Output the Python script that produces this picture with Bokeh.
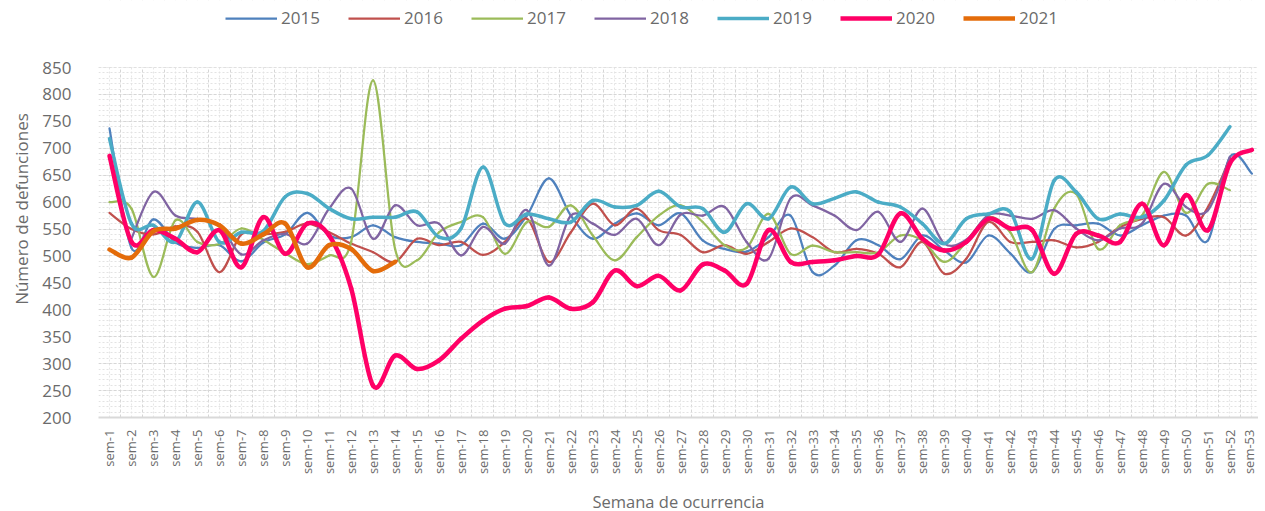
from bokeh.plotting import figure
from bokeh.models import Range1d, FixedTicker, Legend, LegendItem, BoxAnnotation, Title
from bokeh.embed import file_html
from bokeh.resources import INLINE

weeks = [f"sem-{i}" for i in range(1, 54)]
week_num = list(range(1, 54))

y2015 = [737, 515, 568, 525, 515, 520, 490, 525, 540, 580,
         538, 535, 557, 535, 526, 523, 520, 560, 532, 575,
         644, 575, 532, 560, 579, 557, 579, 529, 513, 508,
         535, 575, 470, 482, 529, 520, 494, 538, 510, 488,
         538, 505, 470, 550, 557, 560, 538, 557, 575, 575,
         529, 684, 653]
y2016 = [580, 550, 540, 555, 545, 470, 540, 540, 545, 560,
         544, 523, 507, 489, 532, 520, 526, 502, 526, 569,
         489, 544, 597, 557, 588, 548, 539, 507, 520, 504,
         526, 551, 535, 507, 513, 504, 479, 526, 467, 495,
         563, 526, 526, 529, 516, 526, 554, 569, 572, 538,
         591, 681]
y2017 = [600, 588, 461, 566, 526, 522, 551, 530, 505, 485,
         501, 526, 826, 513, 492, 544, 563, 572, 504, 563,
         554, 594, 538, 492, 535, 575, 594, 563, 520, 515,
         578, 504, 519, 507, 507, 507, 538, 529, 489, 526,
         572, 544, 470, 588, 615, 513, 557, 575, 656, 580,
         634, 622]
y2018 = [None, 532, 619, 575, 569, 557, 503, 529, 541, 523,
         588, 625, 532, 594, 557, 560, 501, 554, 523, 585,
         482, 575, 560, 539, 569, 520, 577, 575, 591, 526,
         495, 607, 594, 575, 548, 582, 526, 588, 523, 530,
         576, 575, 569, 585, 551, 529, 551, 560, 634, 591,
         585, 684]
y2019 = [718, 560, 557, 526, 600, 526, 544, 546, 610, 616,
         588, 569, 572, 572, 582, 535, 551, 665, 560, 578,
         569, 563, 603, 591, 594, 620, 591, 588, 544, 597,
         569, 628, 597, 607, 619, 600, 591, 560, 523, 569,
         578, 582, 495, 640, 619, 569, 578, 572, 603, 669,
         687, 740]
y2020 = [686, 526, 548, 532, 507, 548, 479, 572, 504, 560,
         538, 440, 259, 315, 290, 306, 346, 380, 402, 407,
         423, 402, 414, 473, 444, 463, 436, 484, 473, 448,
         548, 489, 489, 492, 500, 503, 579, 532, 510, 526,
         569, 551, 548, 467, 541, 538, 526, 597, 520, 613,
         548, 672, 697]
y2021 = [512, 497, 546, 551, 567, 557, 523, 540, 560, 479,
         520, 513, 472, 489]

series_names = ["2015", "2016", "2017", "2018", "2019", "2020", "2021"]
series_values = [y2015, y2016, y2017, y2018, y2019, y2020, y2021]
series_colors = ["#4F81BD", "#C0504D", "#9BBB59", "#8064A2", "#4BACC6", "#FF0066", "#E46C0A"]
series_widths = [2.25, 2.25, 2.25, 2.25, 3.5, 4.5, 4.5]

y_ticks = list(range(200, 851, 50))
Y_MIN, Y_MAX = 200, 850

FONT = "Open Sans"
TXT = "#6b6b6b"

PX_PER_UNIT = 350 / (Y_MAX - Y_MIN)
TOP_PAD_PX = 67
FRAME_H = 350 + TOP_PAD_PX


def smooth_segments(xs, ys):
    pts = [(x, y) for x, y in zip(xs, ys) if y is not None]
    n = len(pts)
    seg = dict(x0=[], y0=[], x1=[], y1=[], cx0=[], cy0=[], cx1=[], cy1=[])
    for i in range(n - 1):
        p0 = pts[i - 1] if i > 0 else pts[i]
        p1 = pts[i]
        p2 = pts[i + 1]
        p3 = pts[i + 2] if i + 2 < n else pts[i + 1]
        seg["x0"].append(p1[0]); seg["y0"].append(p1[1])
        seg["x1"].append(p2[0]); seg["y1"].append(p2[1])
        seg["cx0"].append(p1[0] + (p2[0] - p0[0]) / 6.0)
        seg["cy0"].append(p1[1] + (p2[1] - p0[1]) / 6.0)
        seg["cx1"].append(p2[0] - (p3[0] - p1[0]) / 6.0)
        seg["cy1"].append(p2[1] - (p3[1] - p1[1]) / 6.0)
    return seg


p = figure(frame_width=1160, frame_height=FRAME_H, output_backend="svg", toolbar_location=None,
           x_range=Range1d(0.5, 53.3), y_range=Range1d(Y_MIN, Y_MAX + TOP_PAD_PX / PX_PER_UNIT),
           min_border_left=89, min_border_right=0, min_border_top=0, min_border_bottom=83)
p.outline_line_color = None
p.background_fill_color = "white"

# grids
p.xgrid.ticker = FixedTicker(ticks=[i + 0.5 for i in range(0, 54)], minor_ticks=week_num)
p.xgrid.grid_line_color = "#d6d6d6"
p.xgrid.grid_line_dash = "3 2"
p.xgrid.minor_grid_line_color = "#e6e6e6"
p.xgrid.minor_grid_line_dash = "2 2"
p.ygrid.ticker = FixedTicker(ticks=y_ticks, minor_ticks=list(range(Y_MIN, Y_MAX + 1, 10)))
p.ygrid.grid_line_color = "#d6d6d6"
p.ygrid.grid_line_dash = "3 2"
p.ygrid.minor_grid_line_color = "#e3e3e3"
p.ygrid.minor_grid_line_dash = "2 2"

# white band over the legend area (hides grid above the 850 line)
p.add_layout(BoxAnnotation(bottom=Y_MAX + 0.6, fill_color="white", fill_alpha=1.0,
                           line_color=None, level="underlay"))

# axes
p.xaxis.ticker = FixedTicker(ticks=week_num)
p.xaxis.major_label_overrides = {i: w for i, w in zip(week_num, weeks)}
p.xaxis.major_label_orientation = 1.5707963
p.xaxis.major_label_text_font = FONT
p.xaxis.major_label_text_font_size = "13px"
p.xaxis.major_label_text_color = TXT
p.xaxis.major_label_standoff = 6
p.xaxis.major_tick_line_color = None
p.xaxis.minor_tick_line_color = None
p.xaxis.axis_line_color = "#d9d9d9"
p.xaxis.axis_line_width = 2
p.xaxis.axis_label = "Semana de ocurrencia"
p.xaxis.axis_label_text_font = FONT
p.xaxis.axis_label_text_font_size = "16.5px"
p.xaxis.axis_label_text_font_style = "normal"
p.xaxis.axis_label_text_color = TXT
p.xaxis.axis_label_standoff = 13

p.yaxis.ticker = FixedTicker(ticks=y_ticks)
p.yaxis.major_label_text_font = FONT
p.yaxis.major_label_text_font_size = "17px"
p.yaxis.major_label_text_color = TXT
p.yaxis.major_label_standoff = 21
p.yaxis.major_tick_line_color = None
p.yaxis.minor_tick_line_color = None
p.yaxis.axis_line_color = None

# y-axis title, centred on the 200-850 band rather than the whole frame
ytitle = Title(text="Número de defunciones", align="center", offset=-33,
               text_font=FONT, text_font_size="17px", text_font_style="normal",
               text_color=TXT, standoff=14)
p.add_layout(ytitle, "left")

items = []
for name, vals, col, w in zip(series_names, series_values, series_colors, series_widths):
    seg = smooth_segments(week_num[:len(vals)], vals)
    p.bezier(x0="x0", y0="y0", x1="x1", y1="y1", cx0="cx0", cy0="cy0", cx1="cx1", cy1="cy1",
             source=seg, line_color=col, line_width=w, line_cap="round")
    # single-point line: draws nothing in the plot, only provides the legend swatch
    leg = p.line(x=week_num[:1], y=[v for v in vals if v is not None][:1],
                 line_color=col, line_width=w)
    items.append(LegendItem(label=name, renderers=[leg]))

legend = Legend(items=items, orientation="horizontal", location=(127, FRAME_H - 29),
                glyph_width=52, glyph_height=20, label_standoff=4, label_width=40,
                spacing=27, padding=0, margin=0,
                label_text_font=FONT, label_text_font_size="17px", label_text_color=TXT,
                border_line_color=None, background_fill_alpha=0)
p.add_layout(legend)

open("out.html", "w").write(file_html(p, INLINE))
